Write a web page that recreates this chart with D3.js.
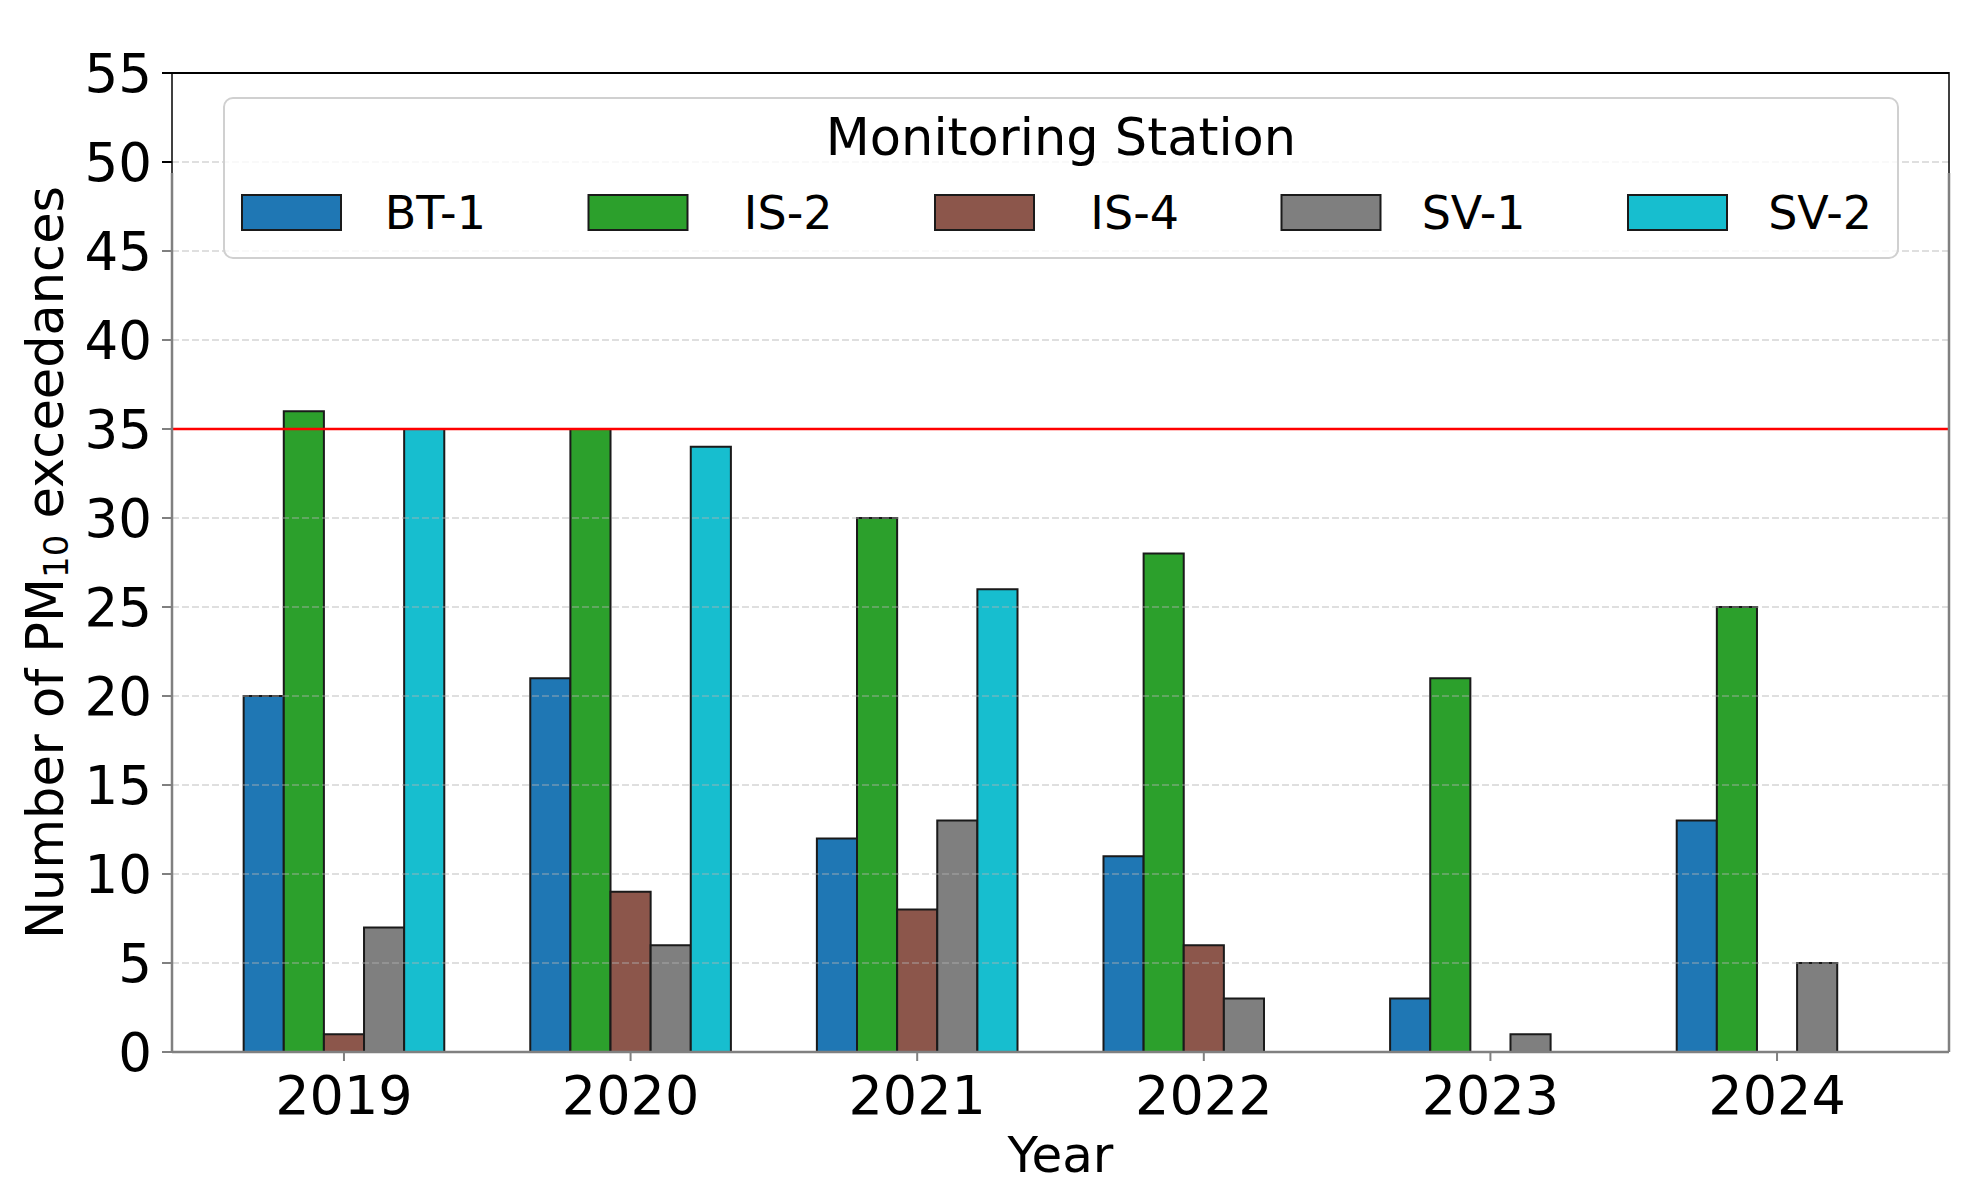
<!DOCTYPE html>
<html>
<head>
<meta charset="utf-8">
<script src="https://cdn.jsdelivr.net/npm/d3@7"></script>
<style>
  body { margin: 0; background: #fff; }
  text { font-family: "DejaVu Sans", sans-serif; fill: #000; }
</style>
</head>
<body>
<div id="chart"></div>
<script>
// Data
const years = ["2019", "2020", "2021", "2022", "2023", "2024"];
const stations = ["BT-1", "IS-2", "IS-4", "SV-1", "SV-2"];
const colors = ["#1f77b4", "#2ca02c", "#8c564b", "#7f7f7f", "#17becf"];
const bt1 = [20, 21, 12, 11, 3, 13];
const is2 = [36, 35, 30, 28, 21, 25];
const is4 = [1, 9, 8, 6, 0, 0];
const sv1 = [7, 6, 13, 3, 1, 5];
const sv2 = [35, 34, 26, 0, 0, 0];
const series = [bt1, is2, is4, sv1, sv2];
const yTicks = [0, 5, 10, 15, 20, 25, 30, 35, 40, 45, 50, 55];
const limit = 35;

const W = 1976, H = 1202;
const plot = { left: 172, right: 1949, top: 73, bottom: 1052 };
const barW = 0.14;

const svg = d3.select("#chart").append("svg")
    .attr("width", W)
    .attr("height", H);

svg.append("rect").attr("width", W).attr("height", H).attr("fill", "#fff");

const x = d3.scaleLinear().domain([-0.6, years.length - 0.4]).range([plot.left, plot.right]);
const y = d3.scaleLinear().domain([0, 55]).range([plot.bottom, plot.top]);

// Bars
series.forEach((vals, s) => {
  const off = (s - 2) * barW;
  svg.append("g")
    .selectAll("path")
    .data(vals)
    .enter().append("path")
      .attr("d", (d, i) => {
        const x0 = x(i + off - barW / 2), x1 = x(i + off + barW / 2);
        return "M" + x0 + "," + y(0) + "V" + y(d) + "H" + x1 + "V" + y(0) + "Z";
      })
      .attr("fill", colors[s])
      .attr("stroke", "#1a1a1a")
      .attr("stroke-width", 2);
});

// Grid (drawn over the bars, semi transparent)
svg.append("g")
  .selectAll("line")
  .data(yTicks.filter(t => t > 0 && t < 55))
  .enter().append("line")
    .attr("x1", plot.left).attr("x2", plot.right)
    .attr("y1", d => y(d)).attr("y2", d => y(d))
    .attr("stroke", "#b0b0b0")
    .attr("stroke-opacity", 0.55)
    .attr("stroke-width", 1.6)
    .attr("stroke-dasharray", "7,3");

// Limit line
svg.append("line")
  .attr("x1", plot.left).attr("x2", plot.right)
  .attr("y1", y(limit)).attr("y2", y(limit))
  .attr("stroke", "#ff0000")
  .attr("stroke-width", 2.5);

// Spines
const spineGray = "#808080";
svg.append("line").attr("x1", plot.left).attr("x2", plot.right).attr("y1", plot.top).attr("y2", plot.top)
  .attr("stroke", "#000").attr("stroke-width", 2);
[plot.left, plot.right].forEach(sx => {
  svg.append("line").attr("x1", sx).attr("x2", sx).attr("y1", plot.top - 1).attr("y2", 173)
    .attr("stroke", "#000").attr("stroke-width", 1.5);
  svg.append("line").attr("x1", sx).attr("x2", sx).attr("y1", 173).attr("y2", plot.bottom)
    .attr("stroke", spineGray).attr("stroke-width", 2.5);
});
svg.append("line").attr("x1", plot.left).attr("x2", plot.right).attr("y1", plot.bottom).attr("y2", plot.bottom)
  .attr("stroke", spineGray).attr("stroke-width", 2.5);

// Y axis ticks and labels
const yAxis = svg.append("g");
yAxis.selectAll("line")
  .data(yTicks)
  .enter().append("line")
    .attr("x1", plot.left - 10).attr("x2", plot.left)
    .attr("y1", d => y(d)).attr("y2", d => y(d))
    .attr("stroke", d => d >= 50 ? "#000" : spineGray)
    .attr("stroke-width", 2);
yAxis.selectAll("text")
  .data(yTicks)
  .enter().append("text")
    .attr("x", plot.left - 20)
    .attr("y", d => y(d) + 19)
    .attr("text-anchor", "end")
    .style("font-size", "53px")
    .text(d => d);

// X axis ticks and labels
const xAxis = svg.append("g");
xAxis.selectAll("line")
  .data(years)
  .enter().append("line")
    .attr("x1", (d, i) => x(i)).attr("x2", (d, i) => x(i))
    .attr("y1", plot.bottom).attr("y2", plot.bottom + 9)
    .attr("stroke", spineGray)
    .attr("stroke-width", 2);
xAxis.selectAll("text")
  .data(years)
  .enter().append("text")
    .attr("x", (d, i) => x(i))
    .attr("y", 1114)
    .attr("text-anchor", "middle")
    .style("font-size", "54px")
    .text(d => d);

// Axis labels
svg.append("text")
  .attr("x", (plot.left + plot.right) / 2)
  .attr("y", 1172)
  .attr("text-anchor", "middle")
  .style("font-size", "50px")
  .text("Year");

const yl = svg.append("text")
  .attr("transform", "translate(63," + ((plot.top + plot.bottom) / 2) + ") rotate(-90)")
  .attr("text-anchor", "middle")
  .style("font-size", "51px");
yl.append("tspan").text("Number of PM");
yl.append("tspan").style("font-size", "34px").attr("dy", 5).text("10");
yl.append("tspan").attr("dy", -5).text(" exceedances");

// Legend
const lg = svg.append("g");
lg.append("rect")
  .attr("x", 224).attr("y", 98)
  .attr("width", 1674).attr("height", 160)
  .attr("rx", 9)
  .attr("fill", "#fff").attr("fill-opacity", 0.8)
  .attr("stroke", "#d0d0d0").attr("stroke-width", 2);
lg.append("text")
  .attr("x", 224 + 1674 / 2)
  .attr("y", 155)
  .attr("text-anchor", "middle")
  .style("font-size", "51px")
  .text("Monitoring Station");

const colStep = 346.5;
stations.forEach((name, i) => {
  const hx = 242 + i * colStep;
  lg.append("rect")
    .attr("x", hx).attr("y", 195)
    .attr("width", 99).attr("height", 35)
    .attr("fill", colors[i])
    .attr("stroke", "#1a1a1a").attr("stroke-width", 2);
  lg.append("text")
    .attr("x", hx + 244)
    .attr("y", 229)
    .attr("text-anchor", "end")
    .style("font-size", "46px")
    .text(name);
});
</script>
</body>
</html>
